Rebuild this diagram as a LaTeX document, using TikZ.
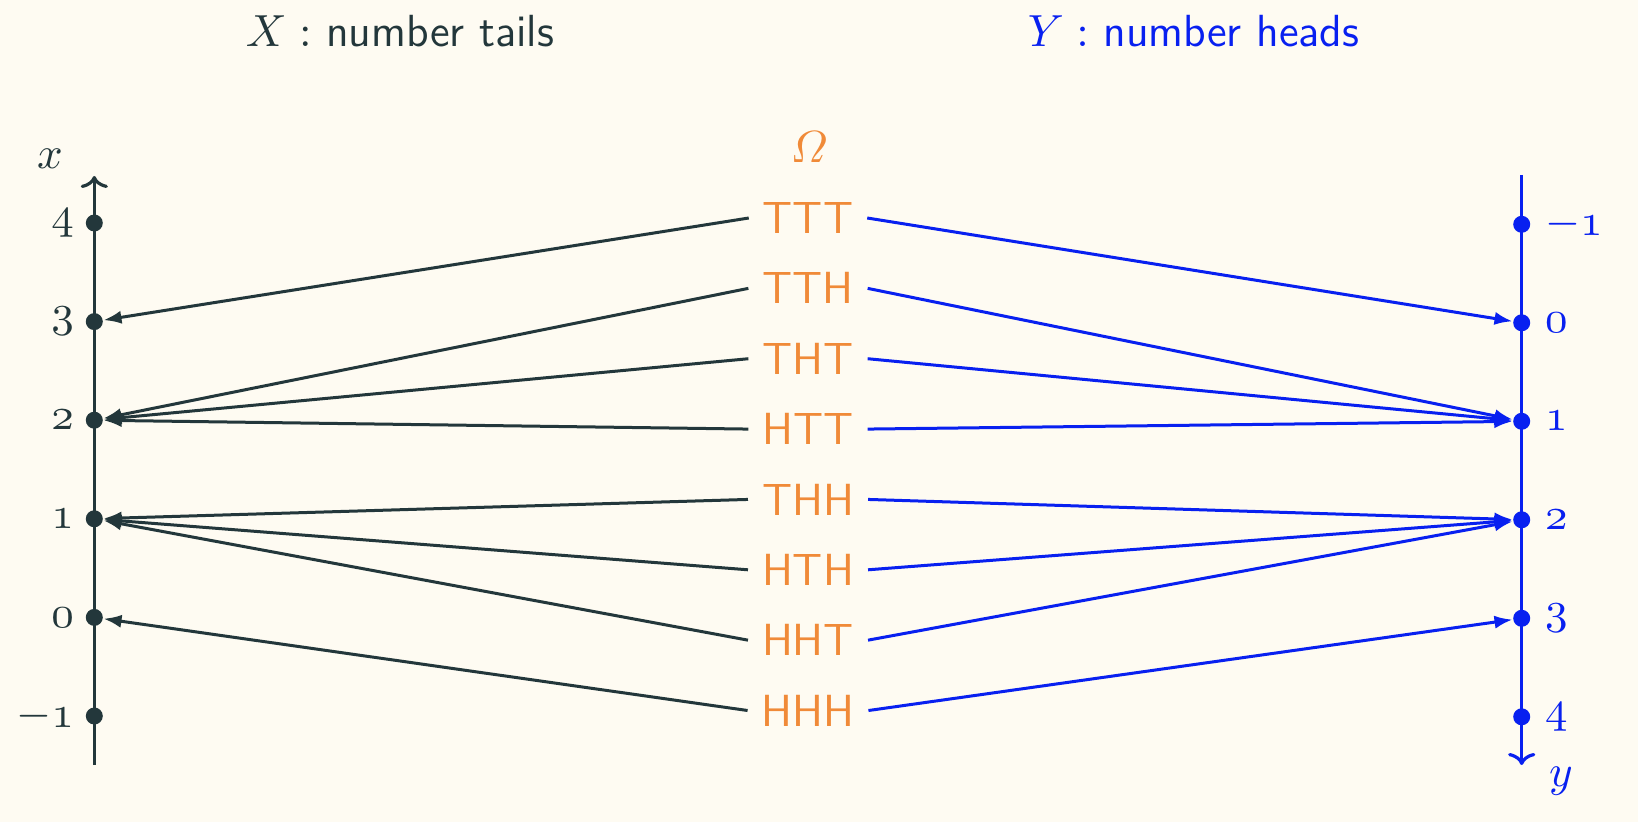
\RequirePackage{fix-cm}
\documentclass[tikz,border=0pt]{standalone}
\usepackage{amsmath}
\usetikzlibrary{arrows.meta}
\definecolor{dk}{HTML}{23373B}
\definecolor{bl}{RGB}{8,32,240}
\definecolor{og}{RGB}{240,138,56}
\definecolor{bg}{RGB}{254,251,242}
\begin{document}
\begin{tikzpicture}[x=0.25pt,y=-0.25pt,
  font=\fontsize{11.25}{13.5}\selectfont\sffamily,
  dot/.style={circle,fill,inner sep=0pt,minimum size=4.25pt},
  ax/.style={line width=0.8pt,-{To[length=3pt,width=6.8pt]}},
  conn/.style={line width=0.75pt,-{Latex[length=4.5pt,width=3.3pt]}},
  om/.style={text=og}]
\fill[bg] (0,0) rectangle (1638,822);
\useasboundingbox (0,0) rectangle (1638,822);
% titles
\node[anchor=base west,inner sep=0pt,text=dk] (tx) at (245,46.7) {$X:$ number tails};
\node[anchor=base west,inner sep=0pt,text=bl] (ty) at (1027,46.7) {$Y:$ number heads};
% left axis
\coordinate (lbot) at (94.3,765);
\coordinate (ltop) at (94.3,176);
\draw[ax,dk] (lbot) -- (ltop);
\node[anchor=base,text=dk,inner sep=0pt] (xl) at (50,169) {$x$};
\foreach \v/\n in {4/l4,3/l3,2/l2,1/l1,0/l0,-1/lm}{
  \node[dot,dk] (\n) at (94.3,{223+(4-\v)*98.6}) {};
  \node[anchor=east,text=dk] at (88,{223+(4-\v)*98.6}) {$\mathnormal{\v}$};
}
% right axis
\coordinate (rtop) at (1521.7,175);
\coordinate (rbot) at (1521.7,765);
\draw[ax,bl] (rtop) -- (rbot);
\node[anchor=base,text=bl,inner sep=0pt] (yl) at (1561,786) {$y$};
\foreach \v/\n in {-1/rm,0/r0,1/r1,2/r2,3/r3,4/r4}{
  \node[dot,bl] (\n) at (1521.7,{224.3+(\v+1)*98.5}) {};
  \node[anchor=west,text=bl] at (1531,{224.3+(\v+1)*98.5}) {$\mathnormal{\v}$};
}
% outcomes
\node[anchor=base,om,inner sep=0pt] (omega) at (809,162.7) {$\varOmega$};
\foreach \s [count=\i from 0] in {TTT,TTH,THT,HTT,THH,HTH,HHT,HHH}{
  \node[om] (\s) at (808,{218+70.36*\i}) {\s};
}
% X arrows
\draw[conn,dk] (TTT.west) -- (l3);
\draw[conn,dk] (TTH.west) -- (l2);
\draw[conn,dk] (THT.west) -- (l2);
\draw[conn,dk] (HTT.west) -- (l2);
\draw[conn,dk] (THH.west) -- (l1);
\draw[conn,dk] (HTH.west) -- (l1);
\draw[conn,dk] (HHT.west) -- (l1);
\draw[conn,dk] (HHH.west) -- (l0);
% Y arrows
\draw[conn,bl] (TTT.east) -- (r0);
\draw[conn,bl] (TTH.east) -- (r1);
\draw[conn,bl] (THT.east) -- (r1);
\draw[conn,bl] (HTT.east) -- (r1);
\draw[conn,bl] (THH.east) -- (r2);
\draw[conn,bl] (HTH.east) -- (r2);
\draw[conn,bl] (HHT.east) -- (r2);
\draw[conn,bl] (HHH.east) -- (r3);
\end{tikzpicture}
\end{document}
